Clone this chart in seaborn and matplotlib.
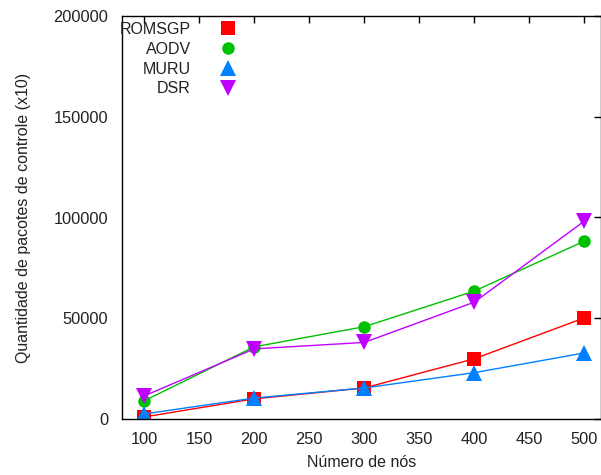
import pandas as pd
import matplotlib
matplotlib.use("Agg")
import matplotlib.pyplot as plt
import seaborn as sns
from matplotlib.lines import Line2D

# Data
nodes = [100, 200, 300, 400, 500]
romsgp = [1000, 10000, 15400, 29900, 50200]
aodv = [9000, 35800, 45800, 63500, 88300]
muru = [2500, 10400, 15400, 23000, 32800]
dsr = [11400, 34800, 38000, 58000, 98300]

protocols = ["ROMSGP", "AODV", "MURU", "DSR"]
series = [romsgp, aodv, muru, dsr]
colors = {"ROMSGP": "#ff0000", "AODV": "#00c000", "MURU": "#0080ff", "DSR": "#c000ff"}
markers = {"ROMSGP": "s", "AODV": "o", "MURU": "^", "DSR": "v"}
msizes = {"ROMSGP": 10, "AODV": 9, "MURU": 12, "DSR": 12}

df = pd.DataFrame(
    [(n, v, p) for p, vals in zip(protocols, series) for n, v in zip(nodes, vals)],
    columns=["nodes", "value", "protocol"],
)

sns.set_style("white")
plt.rcParams["font.family"] = ["Liberation Sans", "DejaVu Sans"]

fig = plt.figure(figsize=(6.01, 4.75), dpi=100)
ax = fig.add_axes([122 / 601, 56 / 475, 1 - 122 / 601, 403 / 475])

for p in protocols:
    sns.lineplot(
        data=df[df.protocol == p], x="nodes", y="value", color=colors[p],
        marker=markers[p], markersize=msizes[p], markeredgewidth=0,
        linewidth=1, ax=ax, label=None, legend=False,
    )

ax.set_xlim(80, 515)
ax.set_ylim(0, 200000)
ax.set_xticks(range(100, 501, 50))
ax.set_yticks(range(0, 200001, 50000))
ax.tick_params(direction="in", length=5, width=1, colors="#000000",
               labelcolor="#222222", labelsize=11.8, top=True, right=True)
ax.tick_params(axis="x", pad=9)
ax.tick_params(axis="y", pad=10)
for s in ax.spines.values():
    s.set_color("#000000")
    s.set_linewidth(1)

ax.set_xlabel("Número de nós", fontsize=11.5, color="#222222", labelpad=6)
ax.set_ylabel("Quantidade de pacotes de controle (x10)", fontsize=11.5,
              color="#222222", labelpad=16)

handles = [Line2D([], [], linestyle="none", marker=markers[p], color=colors[p],
                  markersize=msizes[p], markeredgewidth=0) for p in protocols]
ax.legend(handles, protocols, loc="upper left", markerfirst=False, frameon=False,
          fontsize=11.5, handlelength=1.0, handletextpad=1.85, labelspacing=0.3,
          borderaxespad=0.0, bbox_to_anchor=(-0.018, 1.001),
          labelcolor="#222222")

fig.savefig("out.png", dpi=100)
